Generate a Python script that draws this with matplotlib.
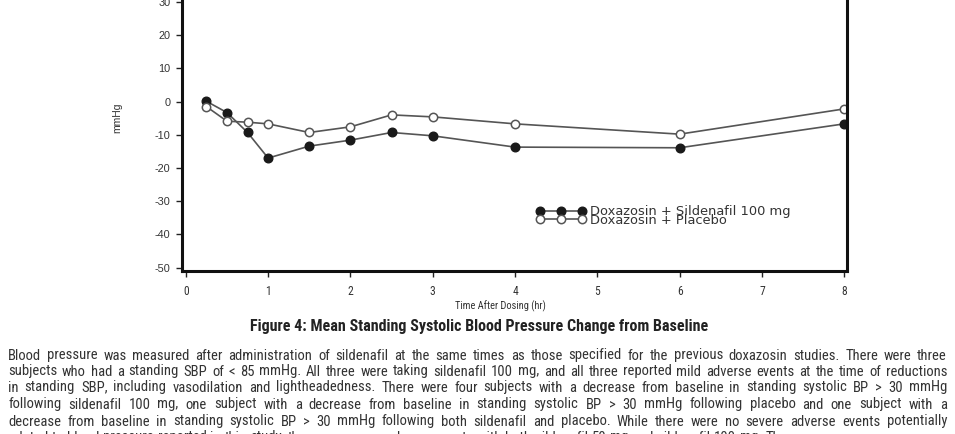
import matplotlib
matplotlib.use("Agg")
import matplotlib.pyplot as plt
from matplotlib import font_manager

# mean change from baseline in standing SBP (mmHg)
hours = [0.25, 0.5, 0.75, 1, 1.5, 2, 2.5, 3, 4, 6, 8]
sildenafil = [0.1, -3.3, -9.3, -17.0, -13.4, -11.6, -9.3, -10.3, -13.7, -13.9, -6.7]
placebo = [-1.5, -5.9, -6.2, -6.7, -9.3, -7.6, -4.0, -4.6, -6.7, -9.8, -2.2]
series_labels = ["Doxazosin + Sildenafil 100 mg", "Doxazosin + Placebo"]
x_ticks = [0, 1, 2, 3, 4, 5, 6, 7, 8]
y_ticks = [-50, -40, -30, -20, -10, 0, 10, 20, 30]
x_label = "Time After Dosing (hr)"
y_label = "mmHg"
caption = "Figure 4: Mean Standing Systolic Blood Pressure Change from Baseline"
body_lines = [
    "Blood pressure was measured after administration of sildenafil at the same times as those specified for the previous doxazosin studies. There were three",
    "subjects who had a standing SBP of < 85 mmHg. All three were taking sildenafil 100 mg, and all three reported mild adverse events at the time of reductions",
    "in standing SBP, including vasodilation and lightheadedness. There were four subjects with a decrease from baseline in standing systolic BP > 30 mmHg",
    "following sildenafil 100 mg, one subject with a decrease from baseline in standing systolic BP > 30 mmHg following placebo and one subject with a",
    "decrease from baseline in standing systolic BP > 30 mmHg following both sildenafil and placebo. While there were no severe adverse events potentially",
    "related to blood pressure reported in this study, there were more adverse events with both sildenafil 50 mg and sildenafil 100 mg. The",
]

plt.rcParams["axes.unicode_minus"] = False


def narrow_props(**kw):
    # try a condensed face; fall back to plain sans
    for fam in ["Liberation Sans Narrow", "Roboto Condensed", "Open Sans Condensed"]:
        try:
            font_manager.findfont(font_manager.FontProperties(family=fam), fallback_to_default=False)
            return font_manager.FontProperties(family=fam, **kw)
        except Exception:
            pass
    fp = font_manager.FontProperties(family="DejaVu Sans", stretch="condensed", **kw)
    if "Condensed" in font_manager.findfont(fp):
        return fp
    return font_manager.FontProperties(family="Roboto", **kw)


plain = "Liberation Sans"
ink = "#333333"

fig = plt.figure(figsize=(9.55, 4.34), dpi=100)
W, H = 955, 434
ax = fig.add_axes([181.7 / W, 163.3 / H, 665 / W, 302 / H])

ax.plot(hours, sildenafil, color="#555555", lw=1.2, marker="o", ms=6.2,
        mfc="#1a1a1a", mec="#1a1a1a", label=series_labels[0])
ax.plot(hours, placebo, color="#555555", lw=1.2, marker="o", ms=6.0,
        mfc="white", mec="#555555", mew=1.1, label=series_labels[1])

ax.set_xlim(-0.05, 8.03)
ax.set_ylim(-50.9, 40)
ax.set_xticks(x_ticks)
ax.set_yticks(y_ticks)
for s in ["left", "bottom", "right"]:
    ax.spines[s].set_linewidth(2.2)
    ax.spines[s].set_color("#111111")
ax.spines["top"].set_visible(False)
ax.tick_params(direction="out", length=4, width=1, colors="#222222", labelcolor=ink)
ax.tick_params(axis="y", pad=4)
ax.tick_params(axis="x", pad=6)
for lab in ax.get_yticklabels():
    lab.set_fontfamily(plain)
    lab.set_fontsize(7.8)
for lab in ax.get_xticklabels():
    lab.set_fontproperties(narrow_props(size=8.4))

fig.text(117 / W, 1 - 118 / H, y_label, rotation=90, ha="center", va="center",
         fontsize=7.5, family=plain, color=ink)
fig.text(500 / W, 1 - 306 / H, x_label, ha="center", va="center",
         fontproperties=narrow_props(size=7.5), color=ink)
cap = fig.text(479 / W, 1 - 326 / H, caption, ha="center", va="center",
               fontproperties=narrow_props(size=11.5, weight="bold"), color="#222222")

leg = ax.legend(loc="center left", bbox_to_anchor=(536 / W, 1 - 216 / H),
                bbox_transform=fig.transFigure, frameon=False, numpoints=3,
                handlelength=3.8, handletextpad=0.3, labelspacing=-0.33,
                borderpad=0, borderaxespad=0,
                prop={"family": "DejaVu Sans", "size": 9.4})
for t in leg.get_texts():
    t.set_color(ink)

renderer = fig.canvas.get_renderer()

# shrink the caption until it spans the same width as in the page
cw = cap.get_window_extent(renderer).width
cap.set_fontsize(11.5 * min(1.0, 465 / cw))

# justified body text; font size chosen so every line fits with a small word gap
left, right = 8, 947
min_gap = 3.2
base = 10.5


def word_widths(words, size):
    objs = [fig.text(0, 0, w, fontproperties=narrow_props(size=size)) for w in words]
    ws = [o.get_window_extent(renderer).width for o in objs]
    for o in objs:
        o.remove()
    return ws


scale = 1.0
for line in body_lines[:-1]:
    words = line.split(" ")
    ws = word_widths(words, base)
    avail = right - left - min_gap * (len(words) - 1)
    scale = min(scale, avail / sum(ws))
size = base * scale
body_fp = narrow_props(size=size)

for i, line in enumerate(body_lines):
    y_px = round(359.5 + 16.5 * i)
    words = line.split(" ")
    objs = []
    for w in words:
        # words with descenders come out a bit low on their own; nudge them up
        _, _, d = renderer.get_text_width_height_descent(w, body_fp, ismath=False)
        y = (H - y_px + round(0.35 * d)) / H
        objs.append(fig.text(0, y, w, fontproperties=narrow_props(size=size),
                             color=ink, va="baseline"))
    widths = [o.get_window_extent(renderer).width for o in objs]
    gap = (right - left - sum(widths)) / (len(words) - 1)
    if i == len(body_lines) - 1:
        gap = min(gap, min_gap + 0.5)
    x = left
    for o, wdt in zip(objs, widths):
        o.set_x(x / W)
        x += wdt + gap

fig.savefig("out.png", dpi=100)
